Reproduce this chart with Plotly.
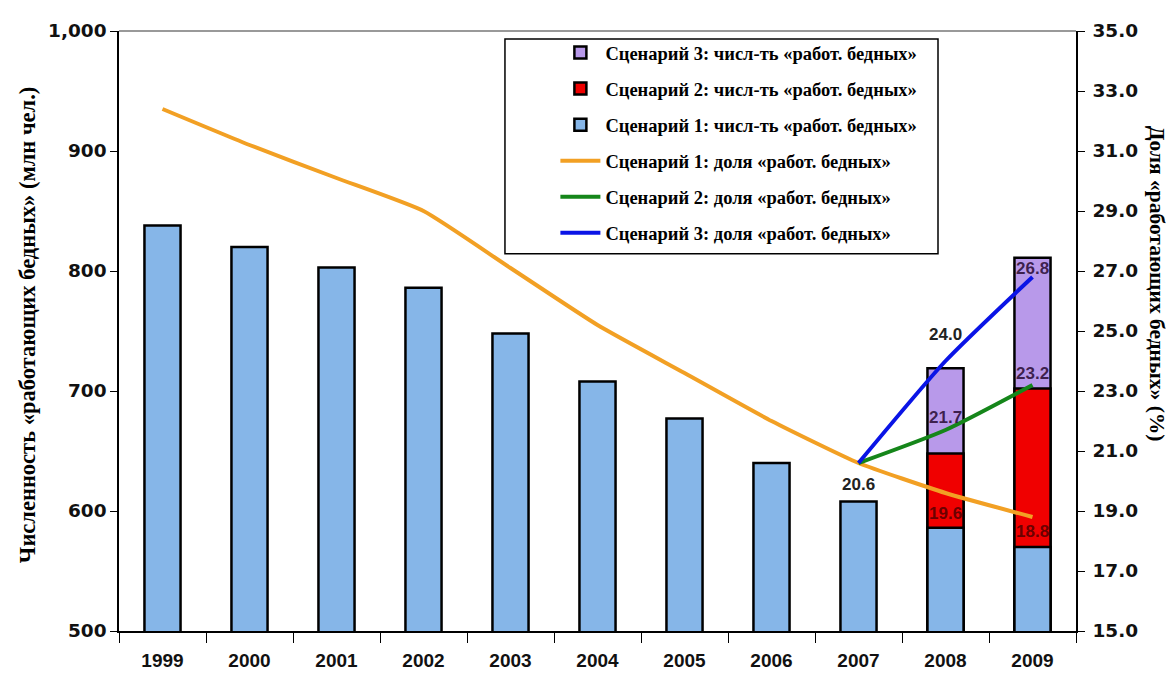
import plotly.graph_objects as go

years = ["1999", "2000", "2001", "2002", "2003", "2004", "2005", "2006", "2007", "2008", "2009"]
# Working poor, millions (scenario 1 for all years)
s1_count = [838, 820, 803, 786, 748, 708, 677, 640, 608, 586, 570]
# Scenario totals for forecast years
fc_years = ["2008", "2009"]
s2_count = [648, 702]
s3_count = [719, 811]
# Share of working poor (%)
s1_share = [32.4, 31.2, 30.1, 29.0, 27.1, 25.2, 23.6, 22.0, 20.6, 19.6, 18.8]
sc_years = ["2007", "2008", "2009"]
s2_share = [20.6, 21.7, 23.2]
s3_share = [20.6, 24.0, 26.8]

names = {
    "b3": "Сценарий 3: числ-ть «работ. бедных»",
    "b2": "Сценарий 2: числ-ть «работ. бедных»",
    "b1": "Сценарий 1: числ-ть «работ. бедных»",
    "l1": "Сценарий 1: доля «работ. бедных»",
    "l2": "Сценарий 2: доля «работ. бедных»",
    "l3": "Сценарий 3: доля «работ. бедных»",
}

fig = go.Figure()
bar_line = dict(color="black", width=2.5)
fig.add_trace(go.Bar(x=fc_years, y=s3_count, name=names["b3"], legendgroup="b3",
                     marker=dict(color="#b899ea", line=bar_line)))
fig.add_trace(go.Bar(x=fc_years, y=s2_count, name=names["b2"], legendgroup="b2",
                     marker=dict(color="#f00000", line=bar_line)))
fig.add_trace(go.Bar(x=years, y=s1_count, name=names["b1"], legendgroup="b1",
                     marker=dict(color="#86b6e8", line=bar_line)))

fig.add_trace(go.Scatter(x=years, y=s1_share, name=names["l1"], legendgroup="l1", yaxis="y2",
                         mode="lines", line=dict(color="#f2a024", width=4, shape="spline", smoothing=0.5)))
fig.add_trace(go.Scatter(x=sc_years, y=s2_share, name=names["l2"], legendgroup="l2", yaxis="y2",
                         mode="lines", line=dict(color="#15861a", width=4, shape="spline", smoothing=0.6)))
fig.add_trace(go.Scatter(x=sc_years, y=s3_share, name=names["l3"], legendgroup="l3", yaxis="y2",
                         mode="lines", line=dict(color="#0a14e6", width=4, shape="spline", smoothing=0.6)))

lab_font = dict(family="Liberation Sans, Arial", size=17, color="#222222", weight="bold")
inner_purple = dict(family="Liberation Sans, Arial", size=17, color="rgba(40,10,50,0.85)", weight="bold")
inner_red = dict(family="Liberation Sans, Arial", size=17, color="rgba(90,0,0,0.9)", weight="bold")
ix = years.index
annots = [
    dict(x=ix("2007"), y=s1_share[8], yref="y2", text="20.6", font=lab_font, yshift=-21),
    dict(x=ix("2008"), y=s3_share[1], yref="y2", text="24.0", font=lab_font, yshift=27),
    dict(x=ix("2008"), y=s2_share[1], yref="y2", text="21.7", font=inner_purple, yshift=13),
    dict(x=ix("2008"), y=s1_share[9], yref="y2", text="19.6", font=inner_red, yshift=-20),
    dict(x=ix("2009"), y=s3_share[2], yref="y2", text="26.8", font=inner_purple, yshift=9),
    dict(x=ix("2009"), y=s2_share[2], yref="y2", text="23.2", font=inner_purple, yshift=12),
    dict(x=ix("2009"), y=s1_share[10], yref="y2", text="18.8", font=inner_red, yshift=-14),
]
for a in annots:
    a.update(xref="x", showarrow=False)
annots.append(dict(text="Численность «работающих бедных» (млн чел.)", xref="paper", yref="paper",
                   x=-0.096, y=0.51, xanchor="center", yanchor="middle", textangle=-90, showarrow=False,
                   font=dict(family="Liberation Serif, Times New Roman", size=22.5, color="black", weight="bold")))
annots.append(dict(text="Доля «работающих бедных» (%)", xref="paper", yref="paper",
                   x=1.0846, y=0.579, xanchor="center", yanchor="middle", textangle=90, showarrow=False,
                   font=dict(family="Liberation Serif, Times New Roman", size=21.5, color="black", weight="bold")))

x_tick_font = dict(family="Liberation Sans, Arial", size=19, color="#111111", weight="bold")
y_tick_font = dict(family="DejaVu Sans", size=18.5, color="#111111", weight="bold")
fig.update_layout(
    width=1174, height=675,
    margin=dict(l=111, r=106, t=18, b=48),
    paper_bgcolor="white", plot_bgcolor="white",
    barmode="overlay", bargap=0.585,
    showlegend=True,
    legend=dict(x=0.456, y=0.995, xanchor="left", yanchor="top",
                bgcolor="rgba(0,0,0,0)", borderwidth=0,
                font=dict(family="Liberation Serif, Times New Roman", size=18.5, color="black", weight="bold"),
                tracegroupgap=9, itemwidth=40, traceorder="grouped"),
    xaxis=dict(type="category", categoryorder="array", categoryarray=years,
               range=[-0.5, len(years) - 0.5],
               showline=True, linecolor="black", linewidth=1.5,
               ticks="outside", tickson="boundaries", ticklen=10, tickcolor="black",
               tickfont=x_tick_font, ticklabelstandoff=11, showgrid=False),
    yaxis=dict(range=[500, 1000], dtick=100, tickformat=",", showline=True, linecolor="black",
               linewidth=1.5, ticks="outside", ticklen=7, tickcolor="black",
               tickfont=y_tick_font, showgrid=False, zeroline=False),
    yaxis2=dict(range=[15, 35], tick0=15, dtick=2, tickformat=".1f", overlaying="y", side="right",
                showline=True, linecolor="black", linewidth=1.5, ticks="outside", ticklen=7,
                tickcolor="black", tickfont=y_tick_font, ticklabelstandoff=4,
                showgrid=False, zeroline=False),
    annotations=annots,
    shapes=[
        dict(type="line", xref="paper", yref="paper", x0=0, x1=1, y0=1, y1=1,
             line=dict(color="#999999", width=2)),
        dict(type="rect", xref="paper", yref="paper", x0=0.4033, x1=0.8558, y0=0.6287, y1=0.9868,
             fillcolor="white", line=dict(color="black", width=1.5), layer="above"),
    ],
)

fig.write_html("out.html")
